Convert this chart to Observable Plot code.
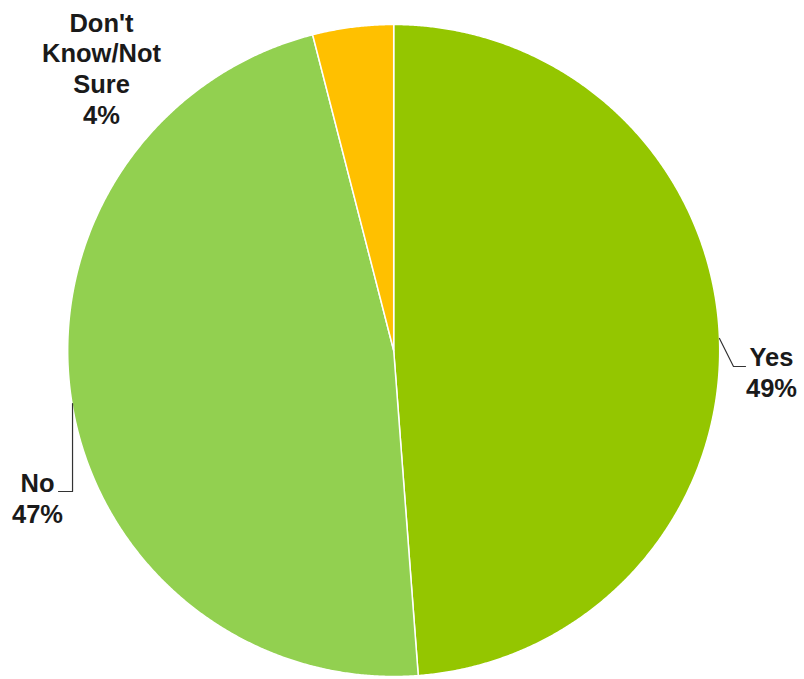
<!DOCTYPE html>
<html>
<head>
<meta charset="utf-8">
<script src="https://cdn.jsdelivr.net/npm/d3@7"></script>
<script src="https://cdn.jsdelivr.net/npm/@observablehq/plot@0.6"></script>
<style>
  html, body { margin: 0; padding: 0; background: #fff; }
  #chart { width: 804px; height: 679px; }
</style>
</head>
<body>
<div id="chart"></div>
<script>
// Data
const categories = ["Yes", "No", "Don't Know/Not Sure"];
const values = [48.8, 47.2, 4.0];
const labelTexts = ["Yes\n49%", "No\n47%", "Don't\nKnow/Not\nSure\n4%"];
const colors = ["#94C600", "#92D050", "#FFC000"];

// Layout (pixels)
const W = 804, H = 679;
const cx = 393.2, cy = 350, R = 326;
const labelPos = [
  {x: 771, y: 396},
  {x: 37, y: 522},
  {x: 101, y: 123}
];

const pie = d3.pie().sort(null).value(d => d.value);
const data = categories.map((c, i) => ({category: c, value: values[i]}));
const arcs = pie(data);

// Build polygon points for each slice
const pts = [];
arcs.forEach(a => {
  const n = Math.max(2, Math.ceil((a.endAngle - a.startAngle) / 0.005));
  pts.push({category: a.data.category, x: cx, y: cy});
  for (let k = 0; k <= n; k++) {
    const t = a.startAngle + (a.endAngle - a.startAngle) * k / n;
    pts.push({category: a.data.category, x: cx + R * Math.sin(t), y: cy - R * Math.cos(t)});
  }
  pts.push({category: a.data.category, x: cx, y: cy});
});

// Leader lines
const leaderPts = [];
{
  const dy = cy - 338;
  const ex = cx + Math.sqrt(R * R - dy * dy);
  leaderPts.push({g: "Yes", x: ex, y: 338}, {g: "Yes", x: 733, y: 366}, {g: "Yes", x: 745, y: 366});
}
{
  const dy = 403 - cy;
  const ex = cx - Math.sqrt(R * R - dy * dy);
  leaderPts.push({g: "No", x: ex + 0.5, y: 403}, {g: "No", x: ex + 0.5, y: 491}, {g: "No", x: 58, y: 491});
}

const labels = categories.map((c, i) => ({category: c, text: labelTexts[i], x: labelPos[i].x, y: labelPos[i].y}));

const chart = Plot.plot({
  width: W,
  height: H,
  margin: 0,
  x: {domain: [0, W], range: [0, W], axis: null},
  y: {domain: [0, H], range: [0, H], axis: null},
  color: {domain: categories, range: colors},
  style: {background: "#fff", fontFamily: "'Liberation Sans', Arial, sans-serif"},
  marks: [
    Plot.line(pts, {x: "x", y: "y", z: "category", fill: "category", stroke: "#fff", strokeWidth: 1.5, strokeLinejoin: "round", curve: "linear"}),
    Plot.line(leaderPts, {x: "x", y: "y", z: "g", stroke: "#333", strokeWidth: 1.2}),
    Plot.text(labels, {x: "x", y: "y", text: "text", lineAnchor: "bottom", lineHeight: 1.2, textAnchor: "middle", fontSize: 25.5, fontWeight: "bold", fill: "#1a1a1a"})
  ]
});
document.getElementById("chart").appendChild(chart);
</script>
</body>
</html>
